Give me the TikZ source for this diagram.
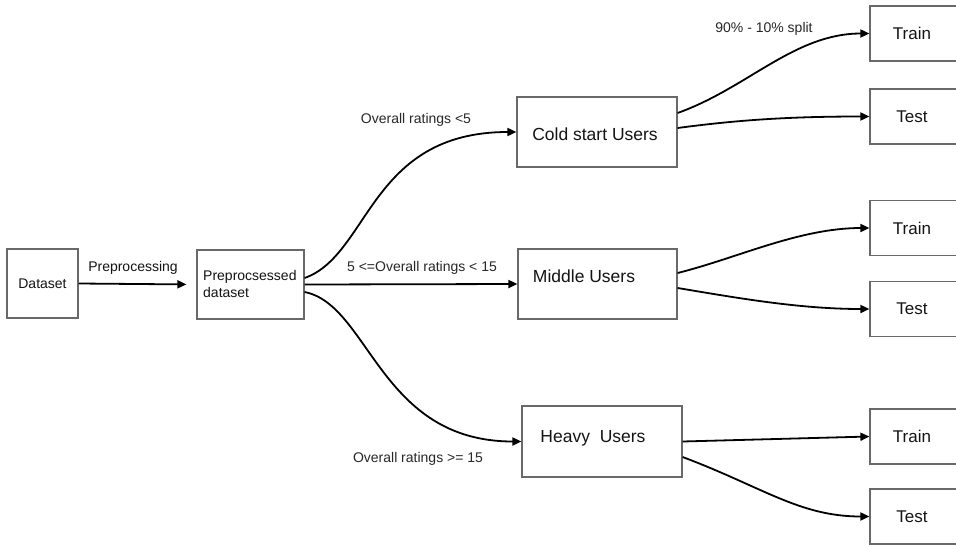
\documentclass[tikz,border=0pt]{standalone}
\usepackage{fontspec}
\setmainfont{Liberation Sans}
\usetikzlibrary{arrows.meta}
\definecolor{boxgray}{RGB}{105,105,105}
\definecolor{txt}{RGB}{20,20,20}
\definecolor{lbl}{RGB}{40,40,40}
\begin{document}
\begin{tikzpicture}[x=1pt,y=-1pt,
  box/.style={draw=boxgray,line width=1.2pt,fill=white,inner sep=0pt,text=txt},
  smalltxt/.style={font=\fontsize{14}{16.5}\selectfont,text=lbl,inner sep=0pt},
  bigtxt/.style={font=\fontsize{17.5}{20}\selectfont,text=txt,inner sep=0pt},
  conn/.style={line width=1.8pt,-{Triangle[length=9pt,width=8pt]}}
]
\useasboundingbox (0,0) rectangle (956,544);
\clip (0,0) rectangle (956,544);
\fill[white] (0,0) rectangle (956,544);

% left boxes
\node[box,minimum width=71pt,minimum height=69pt,font=\fontsize{14}{16.5}\selectfont] (ds) at (42.5,283.5) {Dataset};
\node[box,minimum width=107pt,minimum height=69pt] (pre) at (250.5,284.5) {};
\node[smalltxt,align=left,anchor=west,text=txt] (prelbl) at (203,284) {Preprocsessed\\dataset};

% middle boxes
\node[box,minimum width=160pt,minimum height=70pt] (cold) at (597,132) {};
\node[bigtxt] (coldlbl) at (595,134) {Cold start Users};
\node[box,minimum width=159pt,minimum height=70pt] (mid) at (597.5,284) {};
\node[bigtxt] (midlbl) at (584,276) {Middle Users};
\node[box,minimum width=160pt,minimum height=71pt] (heavy) at (602,441.5) {};
\node[bigtxt] (heavylbl) at (593,438) {Heavy\ \ Users};

% right boxes
\tikzset{rbox/.style={box,minimum width=88pt,minimum height=55pt,font=\fontsize{17}{20}\selectfont,text=txt}}
\node[rbox] (train1) at (914,33.5) {\hspace*{-4pt}Train};
\node[rbox] (test1) at (914,116.5) {\hspace*{-4pt}Test};
\node[rbox] (train2) at (914,228) {\hspace*{-4pt}Train};
\node[rbox] (test2) at (914,309) {\hspace*{-4pt}Test};
\node[rbox] (train3) at (914,436.5) {\hspace*{-4pt}Train};
\node[rbox] (test3) at (914,516.5) {\hspace*{-4pt}Test};

% connectors
\draw[conn,shorten >=10pt] (ds.east) -- (pre.west);
\node[smalltxt,text=txt] (lprep) at (133,268) {Preprocessing};

\draw[conn] ([yshift=6.5pt]pre.east) .. controls +(65,-23) and +(-147,0) .. (cold.west);
\draw[conn] (pre.east) -- (mid.west);
\draw[conn] ([yshift=-7.5pt]pre.east) .. controls +(65,13) and +(-142,0) .. (heavy.west);

\node[smalltxt] (lcold) at (416,120) {Overall ratings <5};
\node[smalltxt] (lmid) at (422,268) {5 <=Overall ratings < 15};
\node[smalltxt] (lheavy) at (418,459) {Overall ratings >= 15};

\draw[conn] ([yshift=19pt]cold.east) .. controls +(70,-25) and +(-75,0) .. (train1.west);
\draw[conn] ([yshift=4pt]cold.east) .. controls +(60,-8) and +(-80,0) .. (test1.west);
\node[smalltxt] (lsplit) at (764,29) {90\% - 10\% split};

\draw[conn] ([yshift=11pt]mid.east) .. controls +(60,-15) and +(-70,0) .. (train2.west);
\draw[conn] ([yshift=-4pt]mid.east) .. controls +(60,10) and +(-70,0) .. (test2.west);

\draw[conn] (heavy.east) -- (train3.west);
\draw[conn] ([yshift=-15.5pt]heavy.east) .. controls +(80,30) and +(-70,0) .. (test3.west);
\end{tikzpicture}
\end{document}
